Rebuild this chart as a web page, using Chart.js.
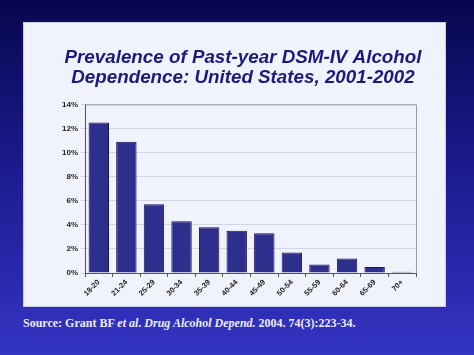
<!DOCTYPE html>
<html><head><meta charset="utf-8">
<script src="https://cdn.jsdelivr.net/npm/chart.js@4.4.1/dist/chart.umd.min.js"></script>
<style>
html,body{margin:0;padding:0;}
body{width:474px;height:355px;overflow:hidden;position:relative;background:linear-gradient(180deg,#07074e 0%,#1a1a8c 45%,#3434c4 100%);}
#panel{position:absolute;left:23px;top:22px;width:423px;height:285px;background:#f1f3fc;border:1px solid #c8cce8;box-sizing:border-box;}
#wrap{position:absolute;left:0;top:0;width:421px;height:283px;}
#src{position:absolute;left:23px;top:316px;font-family:"Liberation Serif","Times New Roman",serif;font-weight:bold;font-size:12px;color:#ececff;white-space:nowrap;}
</style></head><body>
<div id="panel"><div id="wrap"><canvas id="c"></canvas></div></div>
<div id="src">Source: Grant BF <i>et al</i>. <i>Drug Alcohol Depend.</i> 2004. 74(3):223-34.</div>
<script>
const titleLines = ["Prevalence of Past-year DSM-IV Alcohol", "Dependence: United States, 2001-2002"];
const ageGroups = ["18-20","21-24","25-29","30-34","35-39","40-44","45-49","50-54","55-59","60-64","65-69","70+"];
const prevalence = [12.5, 10.9, 5.7, 4.3, 3.8, 3.5, 3.3, 1.7, 0.7, 1.2, 0.5, 0.1];
const yMax = 14;
const yStep = 2;

const frame = {
  id:'frame',
  afterDraw(chart){
    const {ctx, chartArea:a} = chart;
    ctx.save();
    ctx.strokeStyle='#9a9aa4'; ctx.lineWidth=1;
    ctx.beginPath();
    ctx.moveTo(a.left, a.top+0.5); ctx.lineTo(a.right+0.5, a.top+0.5); ctx.lineTo(a.right+0.5, a.bottom);
    ctx.stroke();
    ctx.restore();
  }
};

const font = {family:'"Liberation Sans", Arial, sans-serif', weight:'bold'};

new Chart(document.getElementById('c'), {
  type:'bar',
  data:{labels:ageGroups, datasets:[{data:prevalence, backgroundColor:'#2e2e8c', borderColor:'#15154e', borderWidth:1, barPercentage:0.74, categoryPercentage:1}]},
  options:{
    responsive:true, maintainAspectRatio:false, animation:false, devicePixelRatio:1,
    layout:{padding:{left:17,right:0,top:0,bottom:0}},
    plugins:{
      legend:{display:false}, tooltip:{enabled:false},
      title:{display:true, text:titleLines, color:'#1a1a80', font:{family:'"Liberation Sans", Arial, sans-serif', size:18.8, weight:'bold', style:'italic', lineHeight:1.1}, padding:{top:24,bottom:16}}
    },
    scales:{
      x:{
        grid:{display:true, drawOnChartArea:false, offset:true, tickLength:4, color:'#555'},
        border:{color:'#555', width:1},
        ticks:{color:'#222', maxRotation:45, minRotation:45, padding:1, font:{...font, size:7.5}},
        afterFit(s){ s.height = 33; }
      },
      y:{
        min:0, max:yMax,
        grid:{color:'#d2d5e2', tickLength:4, drawTicks:true},
        border:{color:'#555', width:1},
        ticks:{stepSize:yStep, color:'#222', padding:3, font:{...font, size:8}, callback:v=>v+'%'},
        afterFit(s){ s.width = 44; }
      },
      yr:{
        position:'right', display:true, min:0, max:yMax,
        grid:{display:false}, border:{display:false}, ticks:{display:false},
        afterFit(s){ s.width = 29; }
      }
    }
  },
  plugins:[frame]
});
</script>
</body></html>
